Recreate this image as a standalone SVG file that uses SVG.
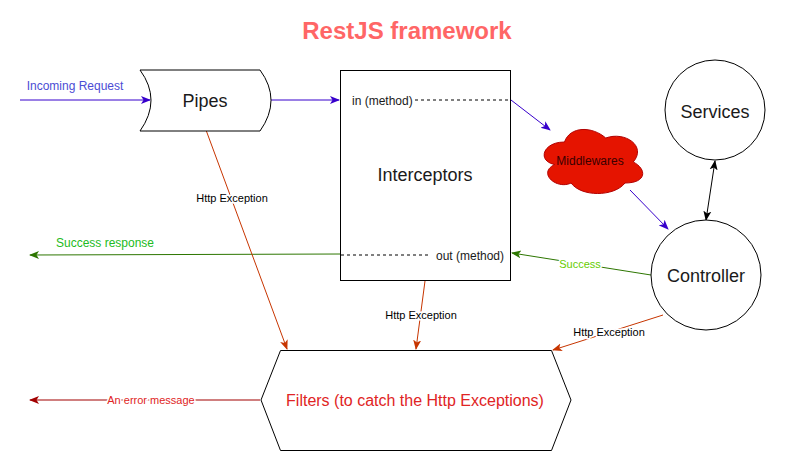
<svg xmlns="http://www.w3.org/2000/svg" width="786" height="461" viewBox="0 0 786 461">
<style>
text{font-family:"Liberation Sans",Arial,sans-serif}
.node{fill:#fff;stroke:#000;stroke-width:1}
.lbl{font-size:18px;fill:#1a1a1a;text-anchor:middle}
.sm{font-size:11px;fill:#000;text-anchor:middle}
.blue{stroke:#3700cc;fill:none;stroke-width:1}
.green{stroke:#2d7600;fill:none;stroke-width:1}
.orange{stroke:#c73500;fill:none;stroke-width:1}
.red{stroke:#a20000;fill:none;stroke-width:1.2}
.dash{stroke:#000;stroke-dasharray:3 3;fill:none}
</style>
<defs>
<marker id="mb" markerWidth="10" markerHeight="10" refX="9" refY="5" orient="auto" markerUnits="userSpaceOnUse"><path d="M0,1 L10,5 L0,9 L2.5,5 Z" fill="#3700cc"/></marker>
<marker id="mg" markerWidth="10" markerHeight="10" refX="9" refY="5" orient="auto" markerUnits="userSpaceOnUse"><path d="M0,1 L10,5 L0,9 L2.5,5 Z" fill="#2d7600"/></marker>
<marker id="mo" markerWidth="10" markerHeight="10" refX="9" refY="5" orient="auto" markerUnits="userSpaceOnUse"><path d="M0,1 L10,5 L0,9 L2.5,5 Z" fill="#c73500"/></marker>
<marker id="mr" markerWidth="10" markerHeight="10" refX="9" refY="5" orient="auto" markerUnits="userSpaceOnUse"><path d="M0,1 L10,5 L0,9 L2.5,5 Z" fill="#a20000"/></marker>
<marker id="mk" markerWidth="10" markerHeight="10" refX="9" refY="5" orient="auto" markerUnits="userSpaceOnUse"><path d="M0,1 L10,5 L0,9 L2.5,5 Z" fill="#000"/></marker>
<marker id="mks" markerWidth="10" markerHeight="10" refX="1" refY="5" orient="auto" markerUnits="userSpaceOnUse"><path d="M10,1 L0,5 L10,9 L7.5,5 Z" fill="#000"/></marker>
</defs>
<rect width="786" height="461" fill="#fff"/>
<text x="407" y="39" text-anchor="middle" font-size="24" font-weight="bold" fill="#ff6666">RestJS framework</text>

<g id="connectors">
<line class="blue" x1="20" y1="100" x2="150" y2="100" marker-end="url(#mb)"/>
<text x="75" y="90" text-anchor="middle" font-size="12" fill="#4c4cd4">Incoming Request</text>
<line class="blue" x1="271" y1="100" x2="339" y2="100" marker-end="url(#mb)"/>
<line class="blue" x1="511" y1="100" x2="550" y2="130" marker-end="url(#mb)"/>
<line class="blue" x1="630" y1="190" x2="668" y2="229" marker-end="url(#mb)"/>
<line x1="715" y1="161" x2="706" y2="220" stroke="#000" marker-start="url(#mks)" marker-end="url(#mk)"/>
<line class="green" x1="651" y1="275" x2="512" y2="253" marker-end="url(#mg)"/>
<text x="580" y="268" text-anchor="middle" font-size="11" fill="#66cc00" stroke="#fff" stroke-width="3" paint-order="stroke">Success</text>
<line class="green" x1="341" y1="254" x2="30" y2="255" marker-end="url(#mg)"/>
<text x="105" y="247" text-anchor="middle" font-size="12" fill="#22bb22">Success response</text>
<line class="orange" x1="206" y1="130" x2="287" y2="349" marker-end="url(#mo)"/>
<text class="sm" x="232" y="202" stroke="#fff" stroke-width="3" paint-order="stroke">Http Exception</text>
<line class="orange" x1="425" y1="281" x2="416" y2="349" marker-end="url(#mo)"/>
<text class="sm" x="421" y="319" stroke="#fff" stroke-width="3" paint-order="stroke">Http Exception</text>
<line class="orange" x1="663" y1="315" x2="553" y2="350" marker-end="url(#mo)"/>
<text class="sm" x="609" y="336" stroke="#fff" stroke-width="3" paint-order="stroke">Http Exception</text>
<line class="red" x1="260" y1="400" x2="30" y2="400" marker-end="url(#mr)"/>
<text x="151" y="404" text-anchor="middle" font-size="11" fill="#e02424" stroke="#fff" stroke-width="3" paint-order="stroke">An error message</text>
</g>

<g id="pipes">
<path class="node" d="M140,70 L260,70 Q282,100 260,131 L140,131 Q162,100 140,70 Z"/>
<text class="lbl" x="205" y="107">Pipes</text>
</g>

<g id="interceptors">
<rect class="node" x="340.5" y="70.5" width="170" height="210"/>
<text x="352" y="105" font-size="12" fill="#1a1a1a">in (method)</text>
<line class="dash" x1="415" y1="100" x2="510" y2="100"/>
<text class="lbl" x="425" y="181">Interceptors</text>
<line class="dash" x1="341" y1="255" x2="428" y2="255"/>
<text x="504" y="260" font-size="12" fill="#1a1a1a" text-anchor="end">out (method)</text>
</g>

<g id="middlewares">
<path d="M564.5,142 C542.5,142 537,161 554.6,164.5 C537,173.2 556.8,190 571.1,183 C581,197 614,197 625,183 C647,183 647,169 633.25,162 C647,146 625,131 605.75,138 C592,126 570,126 564.5,142 Z" fill="#e51400" stroke="#b20000"/>
<text x="590" y="165" text-anchor="middle" font-size="12" fill="#3a0000">Middlewares</text>
</g>

<g id="services">
<circle class="node" cx="715" cy="110" r="50"/>
<text class="lbl" x="715" y="118">Services</text>
</g>

<g id="controller">
<circle class="node" cx="706" cy="275" r="55"/>
<text class="lbl" x="706" y="282">Controller</text>
</g>

<g id="filters">
<path class="node" d="M280.5,350.5 L551.5,350.5 L571,400 L551.5,450.5 L280.5,450.5 L261,400 Z"/>
<text x="415" y="406" text-anchor="middle" font-size="16" fill="#e02424">Filters (to catch the Http Exceptions)</text>
</g>
</svg>
